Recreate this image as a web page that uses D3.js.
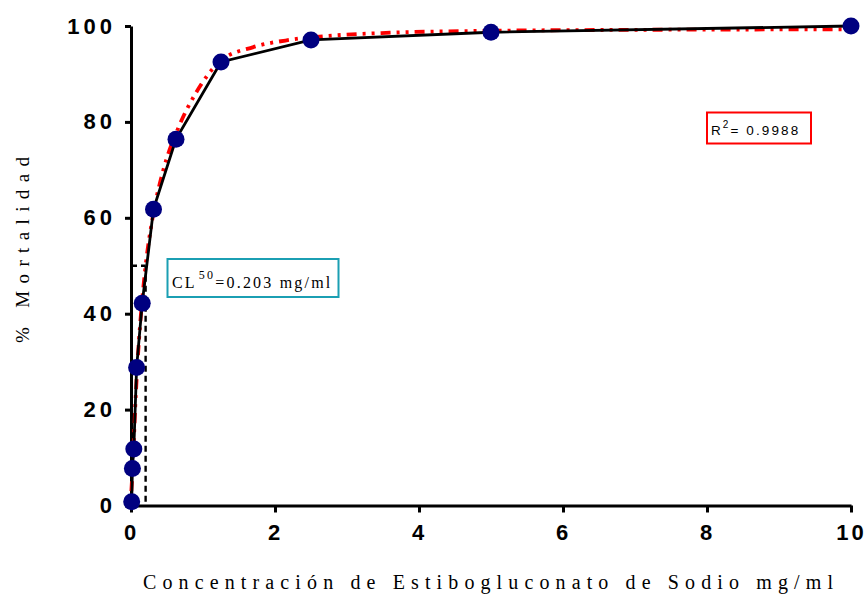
<!DOCTYPE html>
<html>
<head>
<meta charset="utf-8">
<script src="https://cdn.jsdelivr.net/npm/d3@7"></script>
<style>
  html, body { margin: 0; padding: 0; background: #fff; }
  svg { display: block; }
</style>
</head>
<body>
<svg id="chart" width="867" height="597"></svg>
<script>
// Sodium stibogluconate concentration (mg/ml) and observed mortality (%)
const concentrations = [0.0098, 0.0195, 0.039, 0.078, 0.156, 0.3125, 0.625, 1.25, 2.5, 5, 10];
const mortality = [0.8, 7.7, 11.8, 28.8, 42.2, 61.8, 76.4, 92.5, 97.1, 98.7, 100];

// Fitted dose-response curve
const fitX = [0.005, 0.03, 0.06, 0.1, 0.15, 0.203, 0.3, 0.45, 0.65, 0.9, 1.25, 1.7, 2.2, 2.8, 3.6, 5, 7, 10];
const fitY = [3, 10, 21, 32, 42, 50, 60, 70, 78.5, 86, 92.8, 95.6, 97.1, 98.0, 98.6, 99.0, 99.2, 99.3];

const xTicks = [0, 2, 4, 6, 8, 10];
const yTicks = [0, 20, 40, 60, 80, 100];
const lc50 = 0.203;
const rSquared = "0.9988";

const svg = d3.select("#chart");
const x = d3.scaleLinear().domain([0, 10]).range([131, 851]);
const y = d3.scaleLinear().domain([0, 100]).range([505.5, 26]);

// Axes
const xAxis = svg.append("g")
  .attr("transform", `translate(0,${y(0)})`)
  .call(d3.axisBottom(x).tickValues(xTicks).tickSize(7).tickSizeOuter(0).tickPadding(12));
const yAxis = svg.append("g")
  .attr("transform", `translate(${x(0)},0)`)
  .call(d3.axisLeft(y).tickValues(yTicks).tickSize(6).tickSizeOuter(0).tickPadding(7));

[xAxis, yAxis].forEach(g => {
  g.select(".domain").attr("stroke", "#000").attr("stroke-width", 3);
  g.selectAll(".tick line").attr("stroke", "#000").attr("stroke-width", 3);
  g.selectAll(".tick text")
    .attr("fill", "#000")
    .style("font-family", "'Liberation Sans', Arial, sans-serif")
    .style("font-weight", "bold")
    .style("font-size", "22px");
});
xAxis.selectAll(".tick text").style("letter-spacing", "3px").attr("dx", "0px");
yAxis.selectAll(".tick text").style("letter-spacing", "4px").attr("dx", "-2px");

// LC50 guide lines
svg.append("line")
  .attr("x1", x(0)).attr("x2", x(lc50))
  .attr("y1", y(50)).attr("y2", y(50))
  .attr("stroke", "#000").attr("stroke-width", 2.4)
  .attr("stroke-dasharray", "6,4");
svg.append("line")
  .attr("x1", x(lc50)).attr("x2", x(lc50))
  .attr("y1", y(50)).attr("y2", y(0))
  .attr("stroke", "#000").attr("stroke-width", 2.4)
  .attr("stroke-dasharray", "6,4");

// Fitted curve
const fitLine = d3.line()
  .x(d => x(d[0])).y(d => y(d[1]))
  .curve(d3.curveMonotoneX);
svg.append("path")
  .datum(fitX.map((v, i) => [v, fitY[i]]))
  .attr("d", fitLine)
  .attr("fill", "none")
  .attr("stroke", "#ff0000")
  .attr("stroke-width", 3.8)
  .attr("stroke-dasharray", "10,6,3,6,3,6");

// Observed data line and markers
const obs = concentrations.map((v, i) => [v, mortality[i]]);
svg.append("path")
  .datum(obs)
  .attr("d", d3.line().x(d => x(d[0])).y(d => y(d[1])))
  .attr("fill", "none")
  .attr("stroke", "#000")
  .attr("stroke-width", 2.8);
svg.selectAll("circle.pt")
  .data(obs)
  .join("circle")
  .attr("class", "pt")
  .attr("cx", d => x(d[0]))
  .attr("cy", d => y(d[1]))
  .attr("r", 8.5)
  .attr("fill", "#000080");

// LC50 annotation box
svg.append("rect")
  .attr("x", 167.5).attr("y", 259).attr("width", 171).attr("height", 38)
  .attr("fill", "#fff").attr("stroke", "#1b9fb3").attr("stroke-width", 2);
const clText = svg.append("text")
  .attr("x", 172).attr("y", 288)
  .style("font-family", "'Liberation Serif', 'Times New Roman', serif")
  .style("font-size", "16px")
  .style("letter-spacing", "2.2px")
  .attr("fill", "#000");
clText.append("tspan").text("CL");
clText.append("tspan").attr("dy", -9).style("font-size", "12px").attr("dx", 2).text("50");
clText.append("tspan").attr("dy", 9).text("=0.203 mg/ml");

// Goodness-of-fit box
svg.append("rect")
  .attr("x", 707).attr("y", 112.5).attr("width", 104).attr("height", 31)
  .attr("fill", "#fff").attr("stroke", "#ff0000").attr("stroke-width", 2);
const rText = svg.append("text")
  .attr("x", 711).attr("y", 135)
  .style("font-family", "'Liberation Sans', Arial, sans-serif")
  .style("font-size", "13.5px")
  .style("letter-spacing", "2.1px")
  .attr("fill", "#000");
rText.append("tspan").text("R");
rText.append("tspan").attr("dy", -7).style("font-size", "10px").text("2");
rText.append("tspan").attr("dy", 7).text("= " + rSquared);

// Axis titles
svg.append("text")
  .attr("x", 143).attr("y", 589)
  .attr("textLength", 690).attr("lengthAdjust", "spacing")
  .style("font-family", "'Liberation Serif', 'Times New Roman', serif")
  .style("font-size", "20px")
  .attr("fill", "#000")
  .text("Concentración de Estibogluconato de Sodio mg/ml");

svg.append("text")
  .attr("transform", "translate(29,343) rotate(-90)")
  .attr("textLength", 186).attr("lengthAdjust", "spacing")
  .style("font-family", "'Liberation Serif', 'Times New Roman', serif")
  .style("font-size", "19px")
  .attr("fill", "#000")
  .text("% Mortalidad");
</script>
</body>
</html>
